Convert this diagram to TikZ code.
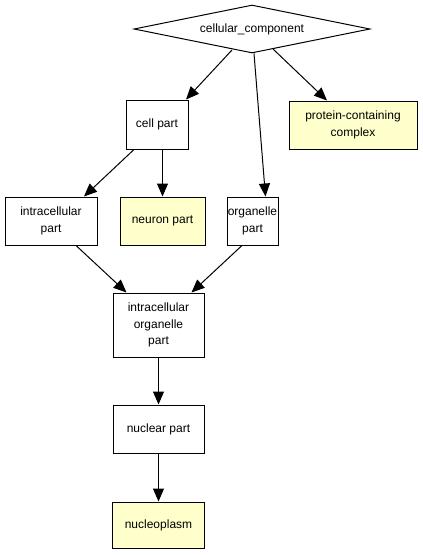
\documentclass[tikz,border=0pt]{standalone}
\usepackage{fontspec}
\setmainfont{Liberation Sans}
\usetikzlibrary{shapes.geometric,arrows.meta,calc}
\definecolor{paleyellow}{HTML}{FFFFCC}
\begin{document}
\begin{tikzpicture}[x=1pt,y=-1pt,
  every node/.style={font=\fontsize{12pt}{16.5pt}\selectfont, align=center, inner sep=0pt},
  termbox/.style={draw=black, line width=1pt, fill=white, rectangle},
  leafbox/.style={termbox, fill=paleyellow},
  rootshape/.style={draw=black, line width=1pt, fill=white, diamond, aspect=4.9,
    minimum width=236pt, minimum height=48pt},
  edge/.style={draw=black, line width=1pt, -{Triangle[length=13pt,width=11pt]}}]
\useasboundingbox (0,0) rectangle (423,555);
\fill[white] (0,0) rectangle (423,555);

\node[rootshape] (cc) at (252,29) {cellular\_component};
\node[termbox, minimum width=62pt, minimum height=49pt] (cp) at (157,124.5) {cell part};
\node[leafbox, minimum width=128pt, minimum height=48pt] (pc) at (353,125) {protein-containing\\complex};
\node[termbox, minimum width=92pt, minimum height=48pt] (ip) at (51,221) {intracellular\\part};
\node[leafbox, minimum width=85pt, minimum height=48pt] (np) at (162.5,221) {neuron part};
\node[termbox, minimum width=51pt, minimum height=48pt] (op) at (252.5,221) {organelle\\part};
\node[termbox, minimum width=91pt, minimum height=64pt] (iop) at (158.5,325) {intracellular\\organelle\\part};
\node[termbox, minimum width=91pt, minimum height=48pt] (nuc) at (158.5,429) {nuclear part};
\node[leafbox, minimum width=92pt, minimum height=46pt] (nucp) at (158.5,525) {nucleoplasm};

\draw[edge] ($(cc.center)+(-20,21)$) -- ($(cp.north)+(29,0)$);
\draw[edge] ($(cc.center)+(21,20)$) -- ($(pc.north)+(-26,0)$);
\draw[edge] ($(cc.south)+(2,0)$) -- ($(op.north)+(13,0)$);
\draw[edge] ($(cp.south)+(-23,0)$) -- ($(ip.north)+(33,0)$);
\draw[edge] ($(cp.south)+(5.5,0)$) -- (np.north);
\draw[edge] ($(ip.south)+(25,0)$) -- ($(iop.north)+(-32,0)$);
\draw[edge] ($(op.south)+(-10.5,0)$) -- ($(iop.north)+(33,0)$);
\draw[edge] (iop.south) -- (nuc.north);
\draw[edge] (nuc.south) -- (nucp.north);
\end{tikzpicture}
\end{document}
